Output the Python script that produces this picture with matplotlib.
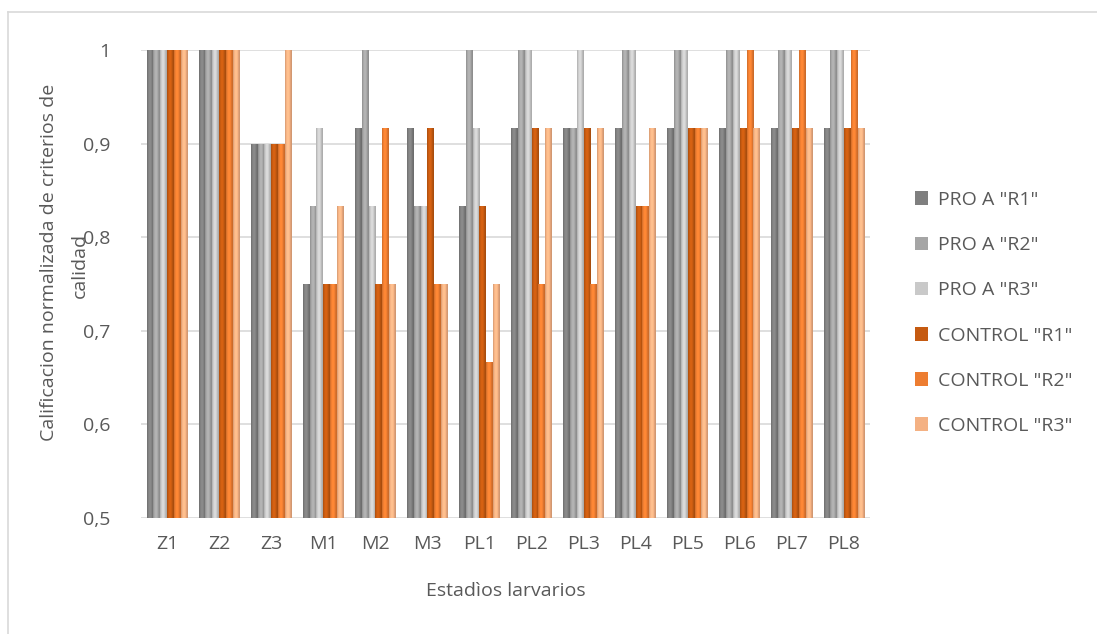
import matplotlib
matplotlib.use('Agg')
import matplotlib.pyplot as plt
import matplotlib.colors as mcolors
import numpy as np

plt.rcParams['font.family'] = ['Open Sans', 'DejaVu Sans']

estadios = ['Z1', 'Z2', 'Z3', 'M1', 'M2', 'M3', 'PL1', 'PL2', 'PL3', 'PL4', 'PL5', 'PL6', 'PL7', 'PL8']
series = ['PRO A "R1"', 'PRO A "R2"', 'PRO A "R3"', 'CONTROL "R1"', 'CONTROL "R2"', 'CONTROL "R3"']

pro_r1 = [1, 1, 0.9, 0.75, 0.917, 0.917, 0.833, 0.917, 0.917, 0.917, 0.917, 0.917, 0.917, 0.917]
pro_r2 = [1, 1, 0.9, 0.833, 1.0, 0.833, 1.0, 1.0, 0.917, 1.0, 1.0, 1.0, 1.0, 1.0]
pro_r3 = [1, 1, 0.9, 0.917, 0.833, 0.833, 0.917, 1.0, 1.0, 1.0, 1.0, 1.0, 1.0, 1.0]
control_r1 = [1, 1, 0.9, 0.75, 0.75, 0.917, 0.833, 0.917, 0.917, 0.833, 0.917, 0.917, 0.917, 0.917]
control_r2 = [1, 1, 0.9, 0.75, 0.917, 0.75, 0.667, 0.75, 0.75, 0.833, 0.917, 1.0, 1.0, 1.0]
control_r3 = [1, 1, 1.0, 0.833, 0.75, 0.75, 0.75, 0.917, 0.917, 0.917, 0.917, 0.917, 0.917, 0.917]
valores = [pro_r1, pro_r2, pro_r3, control_r1, control_r2, control_r3]

colores = ['#7f7f7f', '#a5a5a5', '#c9c9c9', '#c55a11', '#ed7d31', '#f4b183']
texto = '#595959'

fig = plt.figure(figsize=(10.97, 6.34), dpi=100)
ax = fig.add_axes([141/1097, 1-518/634, 729/1097, 468/634])

x = np.arange(len(estadios))
ancho = 0.131
base = 0.5

# perfil tipo cilindro (oscuro a los lados, claro en el centro)
t = np.linspace(0, 1, 40)
perfil = 0.86 + 0.24*np.sin(np.pi*np.clip(t*1.15, 0, 1))

for i, (vals, col) in enumerate(zip(valores, colores)):
    pos = x + (i - 2.5)*ancho
    barras = ax.bar(pos, np.array(vals) - base, ancho, bottom=base, color=col,
                    label=series[i], zorder=2, linewidth=0)
    rgb = np.array(mcolors.to_rgb(col))
    fila = np.clip(rgb[None, :]*perfil[:, None], 0, 1)
    grad = fila[None, :, :]
    for b in barras:
        bx, by = b.get_x(), b.get_y()
        im = ax.imshow(grad, extent=[bx, bx + b.get_width(), by, by + b.get_height()],
                       aspect='auto', zorder=3, interpolation='bilinear')
        im.set_clip_path(b)

ax.set_xlim(-0.5, len(estadios) - 0.5)
ax.set_ylim(0.5, 1.0)
ax.set_yticks([0.5, 0.6, 0.7, 0.8, 0.9, 1.0])
ax.set_yticklabels(['0,5', '0,6', '0,7', '0,8', '0,9', '1'])
ax.set_xticks(x)
ax.set_xticklabels(estadios)
ax.tick_params(length=0, labelsize=14, colors=texto)
ax.tick_params(axis='y', pad=22)
ax.tick_params(axis='x', pad=12)
ax.yaxis.grid(True, color='#d9d9d9', linewidth=1.2, zorder=0)
ax.set_axisbelow(True)
for s in ax.spines.values():
    s.set_visible(False)

# titulo del eje y en dos lineas (la segunda queda sobre el 0,8 como en el original)
fig.text(49/1097, 1-262/634, 'Calificacion normalizada de criterios de',
         rotation=90, ha='center', va='center', fontsize=14, color=texto)
fig.text(80/1097, 1-265/634, 'calidad',
         rotation=90, ha='center', va='center', fontsize=14, color=texto)
fig.text(506/1097, 1-591/634, 'Estadìos larvarios', ha='center', va='center',
         fontsize=14, color=texto)

handles, labels = ax.get_legend_handles_labels()
leg = fig.legend(handles, labels, loc='center left', bbox_to_anchor=(897/1097, 1-313/634),
                 frameon=False, fontsize=14, labelcolor=texto, handlelength=0.7,
                 handleheight=0.7, handletextpad=0.5, labelspacing=1.4)

# marco exterior
fig.add_artist(plt.Line2D([8/1097, 1], [1-12/634, 1-12/634], color='#d9d9d9', lw=1.2))
fig.add_artist(plt.Line2D([8/1097, 8/1097], [0, 1-12/634], color='#d9d9d9', lw=1.2))

fig.savefig('out.png', dpi=100)
